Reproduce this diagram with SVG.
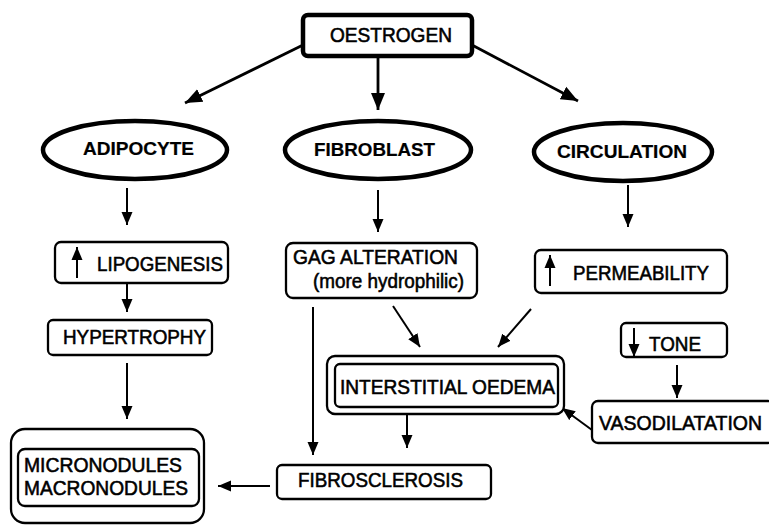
<svg xmlns="http://www.w3.org/2000/svg" width="769" height="525" viewBox="0 0 769 525">
<style>
text{font-family:"Liberation Sans",Arial,sans-serif;font-size:19.5px;fill:#000;stroke:#000;stroke-width:0.55}
.b{font-weight:bold;font-size:18.5px;stroke-width:0.2}
.box{fill:#fff;stroke:#000;stroke-width:2.3}
.ell{fill:#fff;stroke:#000;stroke-width:4.5}
.c{stroke:#000;stroke-width:2;fill:none}
.cl{stroke:#000;stroke-width:2.8;fill:none}
</style>
<defs>
<marker id="a" markerUnits="userSpaceOnUse" markerWidth="14" markerHeight="12" refX="13" refY="6" orient="auto"><path d="M0,0.5 L13,6 L0,11.5 z" fill="#000"/></marker>
<marker id="A" markerUnits="userSpaceOnUse" markerWidth="18" markerHeight="16" refX="17" refY="8" orient="auto"><path d="M0,1 L17,8 L0,15 z" fill="#000"/></marker>
</defs>
<rect width="769" height="525" fill="#fff"/>
<g id="connectors">
<line class="cl" x1="303" y1="45" x2="185" y2="103" marker-end="url(#A)"/>
<line class="cl" x1="378" y1="57" x2="378" y2="110" marker-end="url(#A)"/>
<line class="cl" x1="472" y1="45" x2="578" y2="101" marker-end="url(#A)"/>
<line class="c" x1="127" y1="188" x2="127" y2="225" marker-end="url(#a)"/>
<line class="c" x1="378" y1="190" x2="378" y2="232" marker-end="url(#a)"/>
<line class="c" x1="628" y1="185" x2="628" y2="227" marker-end="url(#a)"/>
<line class="c" x1="127" y1="283" x2="127" y2="312" marker-end="url(#a)"/>
<line class="c" x1="127" y1="363" x2="127" y2="419" marker-end="url(#a)"/>
<line class="c" x1="313" y1="307" x2="313" y2="455" marker-end="url(#a)"/>
<line class="c" x1="393" y1="306" x2="420" y2="347" marker-end="url(#a)"/>
<line class="c" x1="531" y1="309" x2="498" y2="347" marker-end="url(#a)"/>
<line class="c" x1="677" y1="365" x2="677" y2="398" marker-end="url(#a)"/>
<line class="c" x1="592" y1="430" x2="562" y2="408" marker-end="url(#a)"/>
<line class="c" x1="407" y1="415" x2="407" y2="448" marker-end="url(#a)"/>
<line class="c" x1="270" y1="486" x2="218" y2="486" marker-end="url(#a)"/>
</g>
<g id="oestrogen">
<rect x="303" y="15" width="169" height="41" rx="5" fill="#fff" stroke="#000" stroke-width="4.5"/>
<text x="330" y="42" textLength="122" lengthAdjust="spacingAndGlyphs">OESTROGEN</text>
</g>
<g id="adipocyte">
<ellipse class="ell" cx="135" cy="150" rx="92" ry="29"/>
<text class="b" x="83" y="155" textLength="111" lengthAdjust="spacingAndGlyphs">ADIPOCYTE</text>
</g>
<g id="fibroblast">
<ellipse class="ell" cx="378" cy="150" rx="93" ry="29"/>
<text class="b" x="314" y="156" textLength="121" lengthAdjust="spacingAndGlyphs">FIBROBLAST</text>
</g>
<g id="circulation">
<ellipse class="ell" cx="623" cy="152" rx="89" ry="29"/>
<text class="b" x="557" y="158" textLength="130" lengthAdjust="spacingAndGlyphs">CIRCULATION</text>
</g>
<g id="lipogenesis">
<rect class="box" x="55" y="242" width="173" height="41" rx="6"/>
<line class="c" x1="77" y1="278" x2="77" y2="247" marker-end="url(#a)"/>
<text x="97" y="271" textLength="126" lengthAdjust="spacingAndGlyphs">LIPOGENESIS</text>
</g>
<g id="hypertrophy">
<rect class="box" x="48" y="320" width="164" height="35" rx="5"/>
<text x="63" y="344" textLength="143" lengthAdjust="spacingAndGlyphs">HYPERTROPHY</text>
</g>
<g id="nodules">
<rect class="box" x="11" y="429" width="193" height="94" rx="14"/>
<rect class="box" x="18" y="449" width="181" height="57" rx="7"/>
<text x="24" y="472" textLength="158" lengthAdjust="spacingAndGlyphs">MICRONODULES</text>
<text x="24" y="495" textLength="164" lengthAdjust="spacingAndGlyphs">MACRONODULES</text>
</g>
<g id="gag">
<rect class="box" x="286" y="243" width="191" height="55" rx="7"/>
<text x="293" y="264" textLength="165" lengthAdjust="spacingAndGlyphs">GAG ALTERATION</text>
<text x="313" y="288" textLength="151" lengthAdjust="spacingAndGlyphs">(more hydrophilic)</text>
</g>
<g id="permeability">
<rect class="box" x="535" y="250" width="192" height="43" rx="6"/>
<line class="c" x1="550" y1="286" x2="550" y2="255" marker-end="url(#a)"/>
<text x="573" y="280" textLength="136" lengthAdjust="spacingAndGlyphs">PERMEABILITY</text>
</g>
<g id="tone">
<rect class="box" x="621" y="323" width="106" height="34" rx="5"/>
<line class="c" x1="634" y1="328" x2="634" y2="357" marker-end="url(#a)"/>
<text x="649" y="351" textLength="52" lengthAdjust="spacingAndGlyphs">TONE</text>
</g>
<g id="oedema">
<rect class="box" x="327" y="356" width="237" height="58" rx="8" stroke-width="2.6"/>
<rect class="box" x="335" y="364" width="223" height="43" rx="5" stroke-width="2.6"/>
<text x="340" y="394" textLength="215" lengthAdjust="spacingAndGlyphs">INTERSTITIAL OEDEMA</text>
</g>
<g id="vasodilatation">
<rect class="box" x="592" y="401" width="182" height="42" rx="6"/>
<text x="599" y="430" textLength="163" lengthAdjust="spacingAndGlyphs">VASODILATATION</text>
</g>
<g id="fibrosclerosis">
<rect class="box" x="277" y="465" width="214" height="34" rx="5"/>
<text x="298" y="487" textLength="165" lengthAdjust="spacingAndGlyphs">FIBROSCLEROSIS</text>
</g>
</svg>
